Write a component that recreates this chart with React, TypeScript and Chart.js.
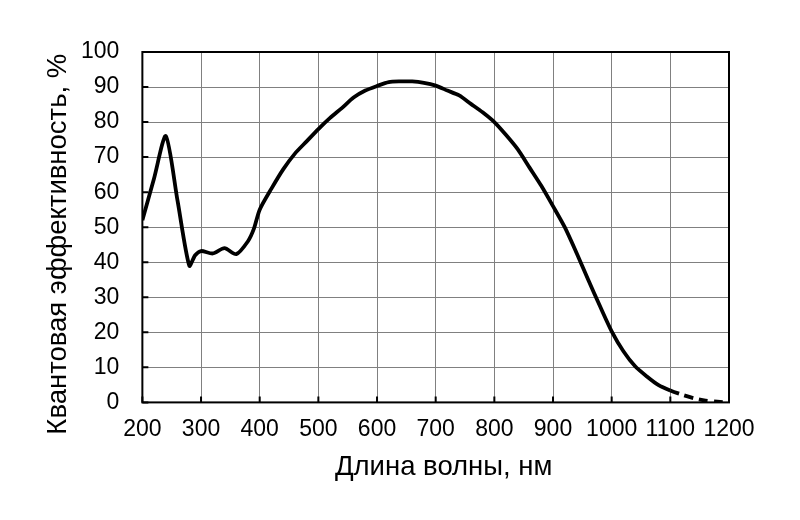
import React, { useEffect, useRef } from "react";
import { Chart, registerables } from "chart.js";

Chart.register(...registerables);

const wavelengths = [200, 220, 240, 260, 280, 290, 300, 320, 340, 360, 380, 390, 400, 420, 440, 460, 480, 500, 520, 540, 560, 580, 600, 620, 640, 660, 680, 700, 720, 740, 760, 780, 800, 820, 840, 860, 880, 900, 920, 940, 960, 980, 1000, 1020, 1040, 1060, 1080, 1100, 1120, 1140, 1160, 1180, 1200];
const efficiency = [52, 64, 76, 57.5, 39, 42, 43.2, 42.5, 44, 42.3, 46, 49.5, 55, 61, 66.5, 71, 74.5, 78, 81.2, 84, 87, 89, 90.3, 91.4, 91.6, 91.6, 91.2, 90.4, 89, 87.6, 85.2, 82.8, 80, 76.3, 72.2, 67, 61.8, 56, 50, 42.7, 35, 27.5, 20.3, 14.6, 10.3, 7.4, 4.9, 3.4, 2.2, 1.2, 0.5, 0.2, 0];
const dashFrom = 1100;
const xTitle = "Длина волны, нм";
const yTitle = "Квантовая эффективность, %";

const FONT = "Liberation Sans, Arial, sans-serif";

const frame = {
  id: "frame",
  afterDatasetsDraw(chart: any) {
    const { ctx, chartArea: a, scales } = chart;
    ctx.save();
    ctx.strokeStyle = "#000";
    ctx.lineWidth = 2;
    ctx.strokeRect(a.left, a.top, a.right - a.left, a.bottom - a.top);
    ctx.beginPath();
    scales.x.ticks.forEach((t: any) => {
      const px = scales.x.getPixelForValue(t.value);
      ctx.moveTo(px, a.bottom);
      ctx.lineTo(px, a.bottom - 6);
    });
    scales.y.ticks.forEach((t: any) => {
      const py = scales.y.getPixelForValue(t.value);
      ctx.moveTo(a.left, py);
      ctx.lineTo(a.left + 6, py);
    });
    ctx.stroke();

    // axis titles
    ctx.fillStyle = "#000";
    ctx.font = `27.5px ${FONT}`;
    ctx.textAlign = "center";
    ctx.textBaseline = "middle";
    ctx.fillText(xTitle, (a.left + a.right) / 2 + 8, a.bottom + 65);
    ctx.translate(a.left - 84, (a.top + a.bottom) / 2 + 17);
    ctx.rotate(-Math.PI / 2);
    ctx.fillText(yTitle, 0, 0);
    ctx.restore();
  },
};

export default function App() {
  const ref = useRef<HTMLCanvasElement>(null);
  useEffect(() => {
    document.body.style.margin = "0";
    const chart = new Chart(ref.current!, {
      type: "line",
      data: {
        datasets: [
          {
            data: wavelengths.map((w, i) => ({ x: w, y: efficiency[i] })),
            borderColor: "#000",
            borderWidth: 3.8,
            pointRadius: 0,
            tension: 0.25,
            fill: false,
            segment: {
              borderDash: (c: any) => (c.p0.parsed.x >= dashFrom ? [9, 6] : undefined),
            },
          },
        ],
      },
      plugins: [frame],
      options: {
        animation: false,
        responsive: false,
        maintainAspectRatio: false,
        layout: { padding: { left: 81, right: 71, top: 52, bottom: 77 } },
        plugins: { legend: { display: false }, tooltip: { enabled: false } },
        scales: {
          x: {
            type: "linear",
            min: 200,
            max: 1200,
            ticks: {
              stepSize: 100,
              color: "#000",
              font: { family: FONT, size: 23 },
              padding: 0,
              maxRotation: 0,
              minRotation: 0,
              autoSkip: false,
              callback: (v: any) => String(v),
            },
            grid: { color: "#808080", lineWidth: 1, drawTicks: true, tickLength: 13, tickColor: "rgba(0,0,0,0)" },
            border: { display: false },
          },
          y: {
            min: 0,
            max: 100,
            ticks: { stepSize: 10, color: "#000", font: { family: FONT, size: 23 }, padding: 0, callback: (v: any) => String(v) },
            grid: { color: "#808080", lineWidth: 1, drawTicks: true, tickLength: 23, tickColor: "rgba(0,0,0,0)" },
            border: { display: false },
          },
        },
      },
    });
    return () => chart.destroy();
  }, []);
  return (
    <div style={{ width: 800, height: 520 }}>
      <canvas ref={ref} width={800} height={520} />
    </div>
  );
}
